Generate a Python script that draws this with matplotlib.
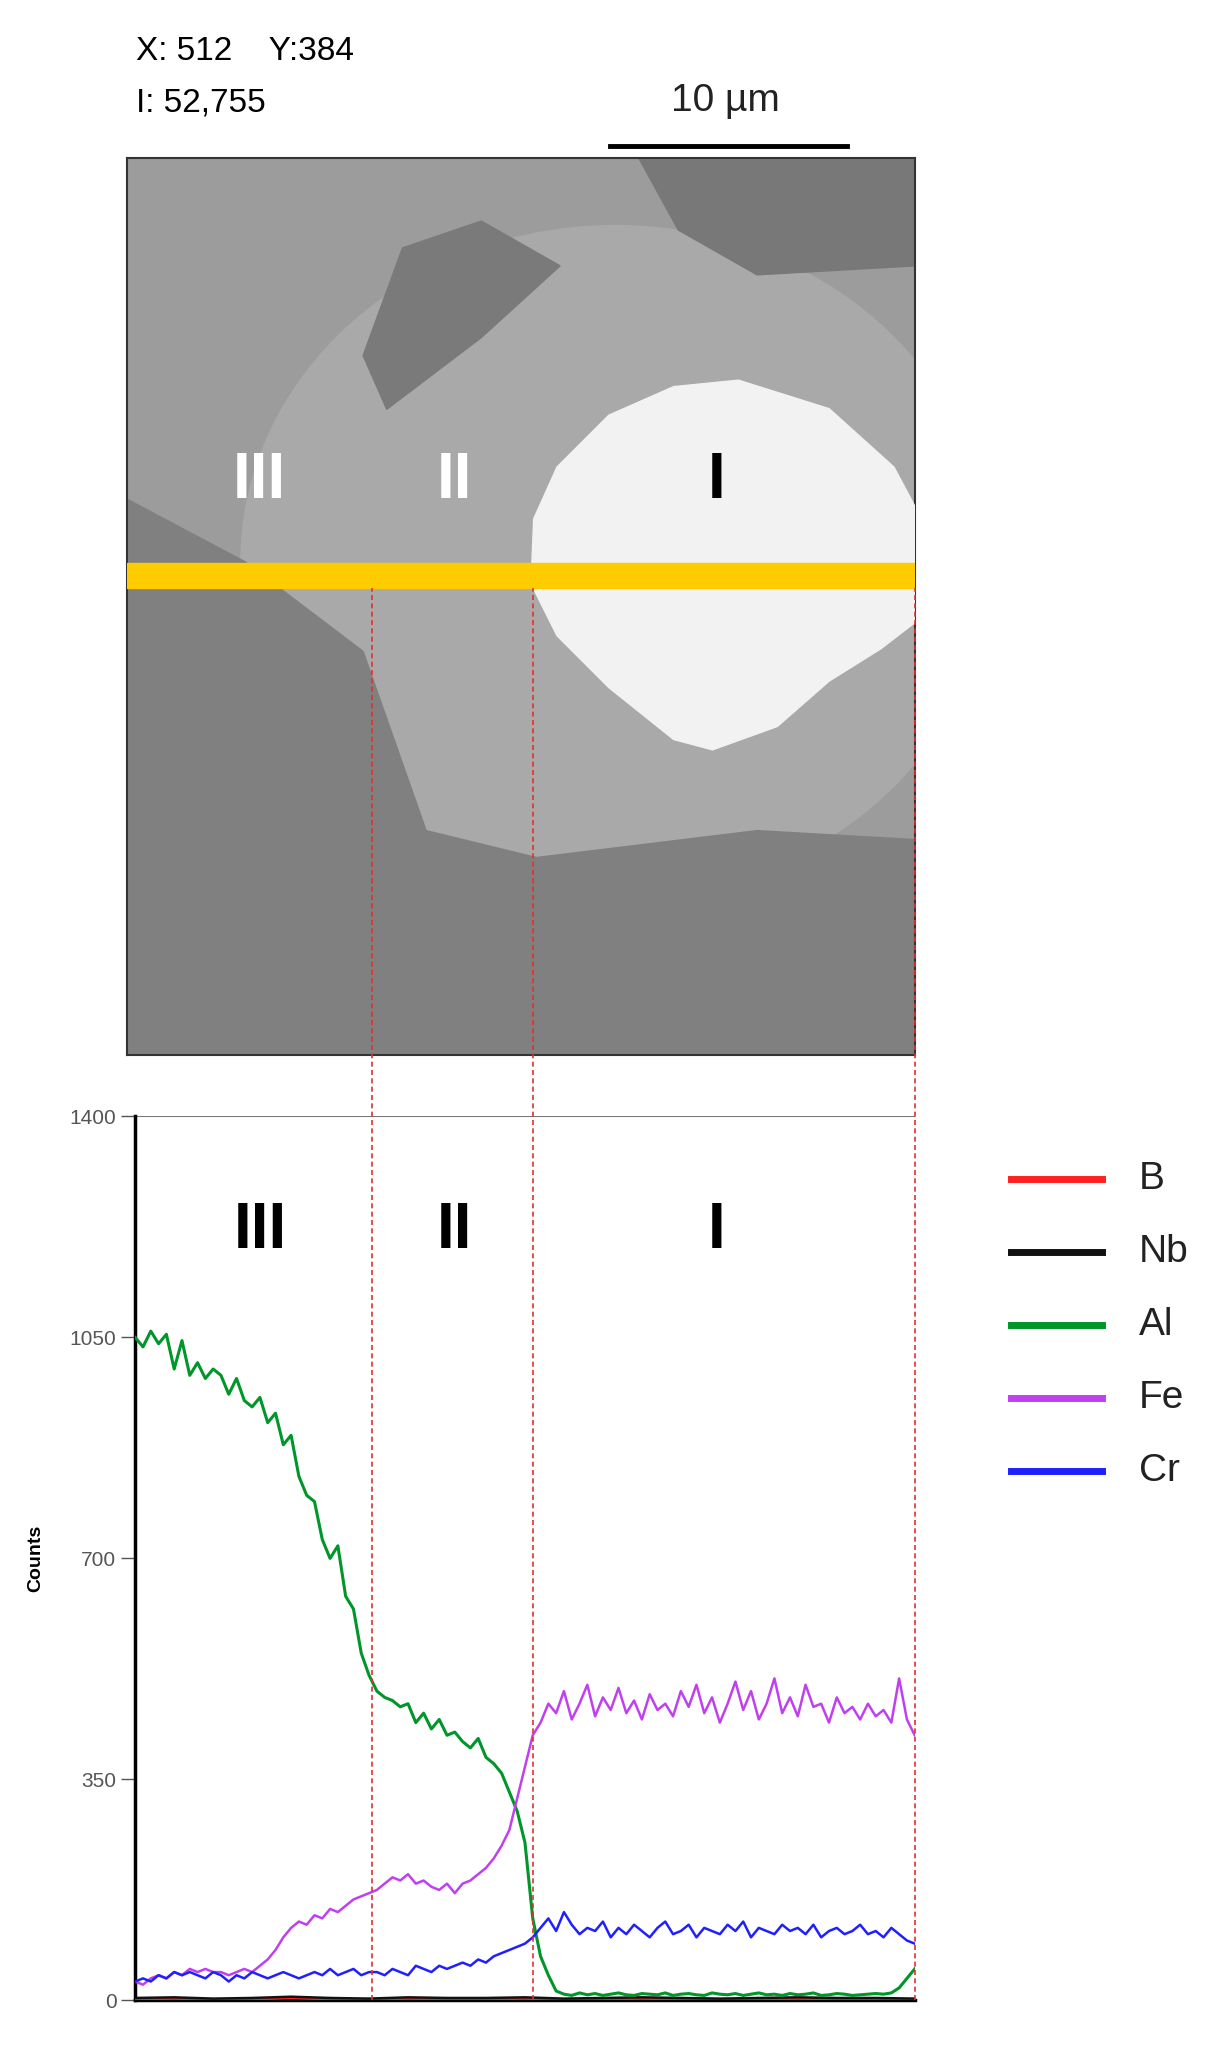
import matplotlib.pyplot as plt
from matplotlib.patches import Polygon, Rectangle, Ellipse
from matplotlib.lines import Line2D
import numpy as np

# line-scan counts, evenly spaced along the scan (0-100 %)
al = [1050, 1035, 1060, 1040, 1055, 1000, 1045, 990, 1010, 985, 1000,
      990, 960, 985, 950, 940, 955, 915, 930, 880, 895,
      830, 800, 790, 730, 700, 720, 640, 620, 550, 515,
      490, 480, 475, 465, 470, 440, 455, 430, 445, 420,
      425, 410, 400, 415, 385, 375, 360, 330, 300, 250,
      130, 70, 40, 15, 10, 8, 12, 9, 11, 8, 10, 12, 9, 8, 11,
      10, 9, 12, 8, 10, 11, 9, 8, 12, 10, 9, 11, 8, 10, 12,
      9, 10, 8, 11, 9, 10, 12, 8, 9, 11, 10, 8, 9, 10, 11,
      10, 12, 20, 35, 50]
fe = [30, 25, 35, 40, 35, 45, 40, 50, 45, 50, 45,
      45, 40, 45, 50, 45, 55, 65, 80, 100, 115,
      125, 120, 135, 130, 145, 140, 150, 160, 165, 170,
      175, 185, 195, 190, 200, 185, 190, 180, 175, 185,
      170, 185, 190, 200, 210, 225, 245, 270, 320, 370,
      420, 440, 470, 455, 490, 445, 470, 500, 450, 480,
      460, 495, 455, 475, 445, 485, 460, 470, 450, 490,
      465, 500, 455, 480, 440, 470, 505, 460, 490, 445,
      470, 510, 455, 480, 450, 500, 465, 470, 440, 480,
      455, 465, 445, 470, 450, 460, 440, 510, 445, 420]
cr = [30, 35, 30, 40, 35, 45, 40, 45, 40, 35, 45, 40, 30, 40, 35, 45, 40, 35, 40, 45, 40,
      35, 40, 45, 40, 50, 40, 45, 50, 40, 45, 45, 40, 50, 45, 40, 55, 50, 45, 55, 50,
      55, 60, 55, 65, 60, 70, 75, 80, 85, 90, 100,
      115, 130, 110, 140, 120, 105, 115, 110, 125, 100, 115, 105, 120, 110, 100, 115,
      125, 105, 110, 120, 100, 115, 110, 105, 120, 110, 125, 100, 115, 110, 105, 120,
      110, 115, 105, 120, 100, 110, 115, 105, 110, 120, 105, 110, 100, 115, 105, 95, 90]
b = [2, 3, 1, 2, 4, 2, 1, 3, 2, 2, 3, 1, 2, 3, 2, 1, 2, 3, 2, 2, 1]
nb = [4, 5, 3, 4, 6, 4, 3, 5, 4, 4, 5, 3, 4, 5, 4, 3, 4, 5, 4, 4, 3]

elements = ['B', 'Nb', 'Al', 'Fe', 'Cr']
colors = ['#ff2020', '#111111', '#00962a', '#c040f0', '#2020ff']
series = [b, nb, al, fe, cr]
yticks = [0, 350, 700, 1050, 1400]
zones = ['III', 'II', 'I']
zone_x = [16, 41, 74.6]
bounds = [30.4, 51, 100]

fig = plt.figure(figsize=(12.18, 20.56), dpi=100)
plt.rcParams['font.family'] = ['Liberation Sans Narrow', 'Liberation Sans', 'DejaVu Sans']

# ---- SEM micrograph (schematic) ----
sem = fig.add_axes([0.104, 0.487, 0.647, 0.436])
sem.set_xlim(0, 1); sem.set_ylim(0, 1)
sem.set_xticks([]); sem.set_yticks([])
sem.add_patch(Rectangle((0, 0), 1, 1, color='#9c9c9c', zorder=0))
sem.add_patch(Ellipse((0.62, 0.55), 0.95, 0.75, color='#a9a9a9', zorder=1))
sem.add_patch(Polygon([(0, 0), (0, 0.62), (0.15, 0.55), (0.3, 0.45), (0.38, 0.25),
                       (0.52, 0.22), (0.8, 0.25), (1, 0.24), (1, 0)],
                      closed=True, color='#808080', zorder=2))
sem.add_patch(Polygon([(0.35, 0.9), (0.45, 0.93), (0.55, 0.88), (0.45, 0.8), (0.33, 0.72), (0.3, 0.78)],
                      closed=True, color='#7a7a7a', zorder=2))
sem.add_patch(Polygon([(0.65, 1), (1, 1), (1, 0.88), (0.8, 0.87), (0.7, 0.92)],
                      closed=True, color='#787878', zorder=2))
blob = [(520, 298), (570, 293), (640, 315), (690, 360), (706, 390), (706, 480), (680, 500),
        (640, 525), (600, 560), (550, 578), (520, 570), (470, 530), (430, 490), (410, 450),
        (412, 400), (430, 360), (470, 320)]
sem.add_patch(Polygon([((x - 98) / 608, 1 - (y - 122) / 691) for x, y in blob],
                      closed=True, color='#f2f2f2', zorder=3))
sem.add_patch(Rectangle((0, 0.521), 1, 0.028, color='#ffcc00', zorder=4))
for name, zx in zip(zones, zone_x):
    sem.text((zx * 6.02 + 6) / 608, 0.64, name, color='white' if name != 'I' else 'black',
             fontsize=46, fontweight='bold', ha='center', va='center', zorder=5)
for s in sem.spines.values():
    s.set_color('#333333'); s.set_linewidth(1.5)

fig.text(0.112, 0.975, 'X: 512    Y:384', fontsize=24, va='center', family='Liberation Sans')
fig.text(0.112, 0.950, 'I: 52,755', fontsize=24, va='center', family='Liberation Sans')
fig.text(0.596, 0.951, '10 µm', fontsize=28, ha='center', va='center', color='#222222',
         family='Liberation Sans')
fig.add_artist(Line2D([0.501, 0.695], [0.929, 0.929], color='black', lw=3.5))

# ---- line profile ----
ax = fig.add_axes([0.111, 0.027, 0.640, 0.430])
for vals, c in zip(series, colors):
    x = np.linspace(0, 100, len(vals))
    ax.plot(x, vals, color=c, lw=2.2 if c == '#00962a' else 1.8, zorder=3)
ax.set_xlim(0, 100)
ax.set_ylim(0, 1400)
ax.set_xticks([])
ax.set_yticks(yticks)
ax.tick_params(axis='y', labelsize=15, colors='#555555', length=10, width=1, direction='out')
ax.axhline(1400, color='#777777', lw=1.5)
ax.spines['top'].set_visible(False)
ax.spines['right'].set_visible(False)
ax.spines['left'].set_linewidth(2.5)
ax.spines['bottom'].set_linewidth(2.5)
ax.set_ylabel('Counts', fontsize=14, fontweight='bold', labelpad=18, family='Liberation Sans')
for name, zx in zip(zones, zone_x):
    ax.text(zx, 1219, name, fontsize=46, fontweight='bold', ha='center', va='center')

# red dashed guide lines from the scan line down to the profile
fig.canvas.draw()
y_top = sem.transAxes.transform((0, 0.521))[1] / fig.bbox.height
for bx in bounds:
    fx = ax.transData.transform((bx, 0))[0] / fig.bbox.width
    fig.add_artist(Line2D([fx, fx], [0.027, y_top], color='#e03030', lw=1.2,
                          ls=(0, (3, 2))))

# legend
for i, (name, c) in enumerate(zip(elements, colors)):
    yy = 0.4266 - i * 0.0355
    fig.add_artist(Line2D([0.83, 0.905], [yy, yy], color=c, lw=5))
    fig.text(0.935, yy, name, fontsize=28, va='center', color='#222222', family='Liberation Sans')

fig.savefig('out.png', dpi=100)
